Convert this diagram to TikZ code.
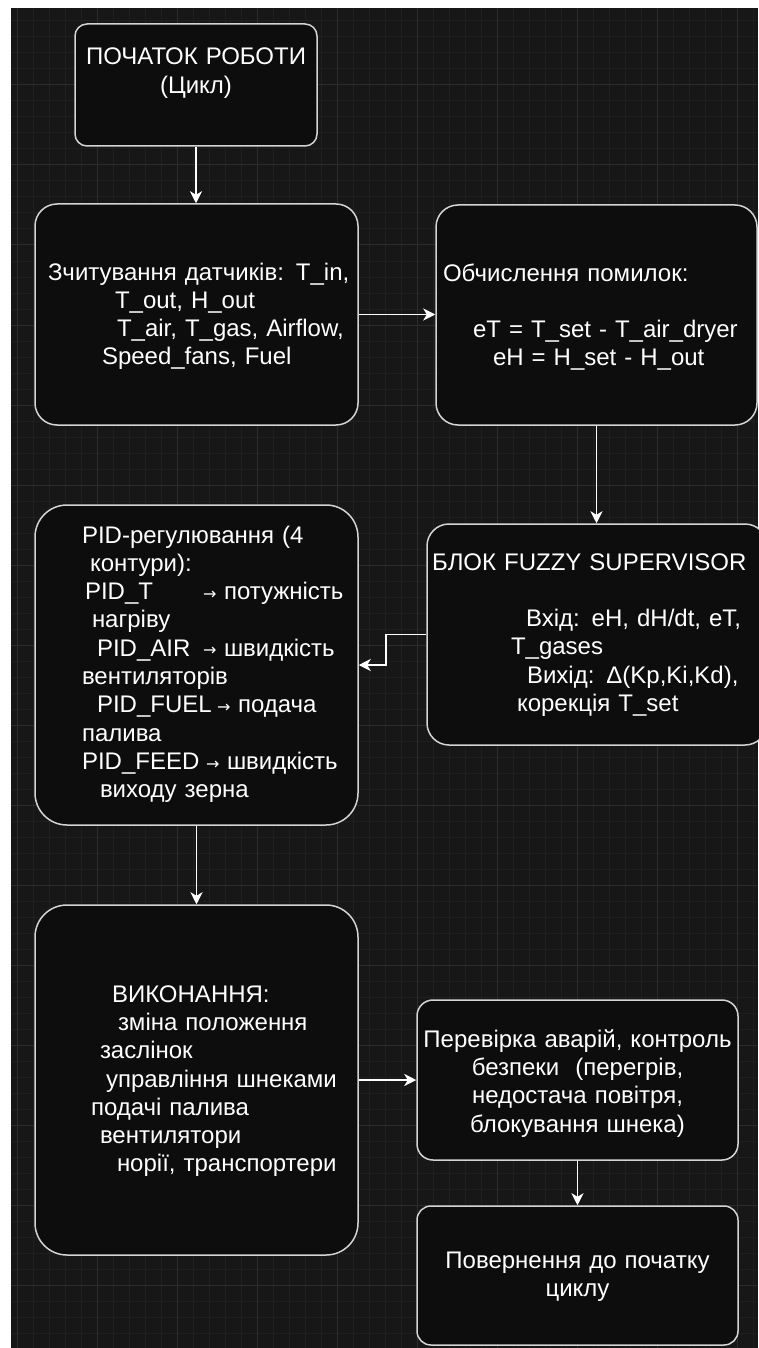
\documentclass[tikz,border=0pt]{standalone}
\usepackage{fontspec}
\setmainfont{Liberation Sans}
\newfontfamily\pidsym{DejaVu Sans}
\usetikzlibrary{arrows.meta}

\definecolor{canvas}{HTML}{171717}
\definecolor{gridminor}{HTML}{1F1F1F}
\definecolor{gridmajor}{HTML}{2C2C2C}
\definecolor{blkfill}{HTML}{0D0D0D}
\definecolor{blkline}{HTML}{D4D4D4}

% small arrow used inside the PID text
\newcommand{\pidarrow}{\makebox[21pt][l]{\pidsym\fontsize{16}{16}\selectfont\raisebox{0.5pt}{→}}}

\tikzset{
  blk/.style={draw=blkline, line width=1.5pt, fill=blkfill, text=white, inner sep=0pt,
    font=\fontsize{24}{28.33}\selectfont, text height=17pt},
  flow/.style={draw=white, line width=1.7pt, -{Stealth[length=12pt,width=12pt,inset=3.5pt]}}
}

\begin{document}
\begin{tikzpicture}[x=1pt, y=-1pt]
 \useasboundingbox (0,0) rectangle (758,1348);
 \fill[white] (0,0) rectangle (758,1348);

 % dark canvas with its grid
 \fill[canvas] (11,8) rectangle (758,1348);
 \foreach \gx in {17,33,...,757} \draw[gridminor, line width=1pt] (\gx,8) -- (\gx,1348);
 \foreach \gy in {21,37,...,1347} \draw[gridminor, line width=1pt] (11,\gy) -- (758,\gy);
 \foreach \gx in {17,97,...,737} \draw[gridmajor, line width=1pt] (\gx,8) -- (\gx,1348);
 \foreach \gy in {85,165,...,1285} \draw[gridmajor, line width=1pt] (11,\gy) -- (758,\gy);

 % blocks of the cycle
 \node[blk, rounded corners=12pt, minimum width=242pt, minimum height=122pt,
   text width=236pt, align=center, text depth=57pt] (start) at (196,85)
   {ПОЧАТОК РОБОТИ\\(Цикл)};

 \node[blk, rounded corners=22pt, minimum width=323pt, minimum height=221pt,
   text width=319pt, align=left, text depth=86pt] (read) at (196.5,314.5)
   {\hspace*{11pt}Зчитування датчиків: T\_in,\\
    \hspace*{78pt}T\_out, H\_out\\
    \hspace*{80pt}T\_air, T\_gas, Airflow,\\
    \hspace*{65pt}Speed\_fans, Fuel};

 \node[blk, rounded corners=22pt, minimum width=321pt, minimum height=220pt,
   text width=317pt, align=left, text depth=85pt] (err) at (596.5,315)
   {\hspace*{5pt}Обчислення помилок:\\\mbox{}\\
    \hspace*{35pt}eT = T\_set - T\_air\_dryer\\
    \hspace*{55pt}eH = H\_set - H\_out};

 \node[blk, rounded corners=22pt, minimum width=340pt, minimum height=221pt,
   text width=336pt, align=left, text depth=146pt] (fuzzy) at (597,634.5)
   {\hspace*{3pt}БЛОК FUZZY SUPERVISOR\\\mbox{}\\
    \hspace*{97pt}Вхід: eH, dH/dt, eT,\\
    \hspace*{82pt}T\_gases\\
    \hspace*{98pt}Вихід: Δ(Kp,Ki,Kd),\\
    \hspace*{88pt}корекція T\_set};

 \node[blk, rounded corners=32pt, minimum width=323pt, minimum height=320pt,
   text width=319pt, align=left, text depth=261pt] (pid) at (196.5,665)
   {\hspace*{45pt}PID-регулювання (4\\
    \hspace*{53pt}контури):\\
    \hspace*{48pt}\makebox[118pt][l]{PID\_T}\pidarrow потужність\\
    \hspace*{55pt}нагріву\\
    \hspace*{60pt}\makebox[106pt][l]{PID\_AIR}\pidarrow швидкість\\
    \hspace*{45pt}вентиляторів\\
    \hspace*{60pt}\makebox[120pt][l]{PID\_FUEL}\pidarrow подача\\
    \hspace*{45pt}палива\\
    \hspace*{45pt}\makebox[124pt][l]{PID\_FEED}\pidarrow швидкість\\
    \hspace*{63pt}виходу зерна};

 \node[blk, rounded corners=32pt, minimum width=323pt, minimum height=350pt,
   text width=319pt, align=left, text depth=173pt] (exec) at (196.5,1080)
   {\hspace*{75pt}ВИКОНАННЯ:\\
    \hspace*{81pt}зміна положення\\
    \hspace*{63pt}заслінок\\
    \hspace*{69pt}управління шнеками\\
    \hspace*{54pt}подачі палива\\
    \hspace*{63pt}вентилятори\\
    \hspace*{80pt}норії, транспортери};

 \node[blk, rounded corners=16pt, minimum width=321pt, minimum height=160pt,
   text width=317pt, align=center, text depth=83pt] (check) at (577.5,1080)
   {Перевірка аварій, контроль\\
    безпеки\ \ (перегрів,\\
    недостача повітря,\\
    блокування шнека)};

 \node[blk, rounded corners=14pt, minimum width=321pt, minimum height=139pt,
   text width=317pt, align=center, text depth=32pt] (ret) at (577.5,1275.5)
   {Повернення до початку\\циклу};

 % connectors
 \draw[flow] (start.south) -- (start.south |- read.north);
 \draw[flow] (read.east) -- (read.east -| err.west);
 \draw[flow] (err.south) -- (err.south |- fuzzy.north);
 \draw[flow] (fuzzy.west) -- ++(-40,0) |- (pid.east);
 \draw[flow] (pid.south) -- (pid.south |- exec.north);
 \draw[flow] (exec.east) -- (exec.east -| check.west);
 \draw[flow] (check.south) -- (check.south |- ret.north);
\end{tikzpicture}
\end{document}
